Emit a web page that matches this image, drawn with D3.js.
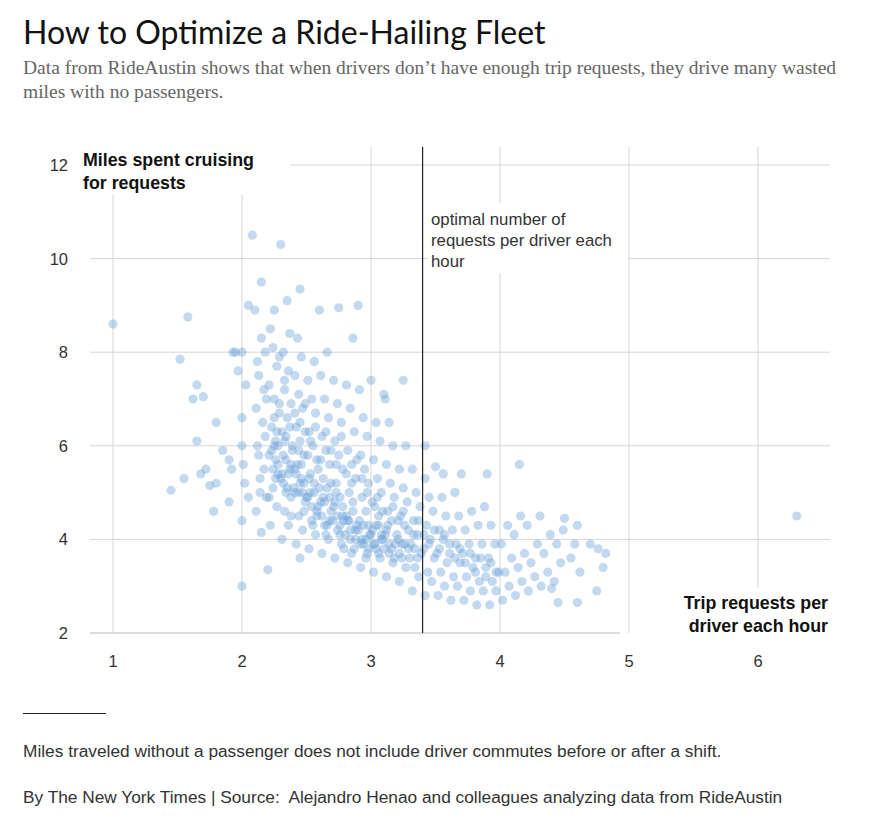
<!DOCTYPE html>
<html><head><meta charset="utf-8">
<script src="https://cdn.jsdelivr.net/npm/d3@7"></script>
<style>
body{margin:0;background:#fff;font-family:"Liberation Sans",Arial,sans-serif;}
.title{position:absolute;left:23px;top:12px;font-size:32px;color:#121212;font-family:"Lato",sans-serif;font-weight:400;}
.sub{position:absolute;left:23px;top:56px;width:840px;font-size:19.5px;line-height:24px;color:#666;font-family:"Liberation Serif",serif;}
.rule{position:absolute;left:23px;top:713px;width:83px;border-top:1px solid #222;}
.note{position:absolute;left:23px;font-size:17.3px;color:#333;}
</style></head><body>
<div class="title">How to Optimize a Ride-Hailing Fleet</div>
<div class="sub">Data from RideAustin shows that when drivers don’t have enough trip requests, they drive many wasted miles with no passengers.</div>
<svg id="chart" width="875" height="700" style="position:absolute;left:0;top:0"></svg>
<div class="rule"></div>
<div class="note" style="top:741px">Miles traveled without a passenger does not include driver commutes before or after a shift.</div>
<div class="note" style="top:787px">By The New York Times | Source:&nbsp; Alejandro Henao and colleagues analyzing data from RideAustin</div>
<script>
var xTicks = [1, 2, 3, 4, 5, 6];
var yTicks = [2, 4, 6, 8, 10, 12];
var optimalRequests = 3.4;
var outliers = [[1.0,8.6],[1.58,8.75],[1.52,7.85],[1.45,5.05],[1.55,5.3],[1.65,7.3],[1.62,7.0],[1.7,7.05],[1.65,6.1],[1.68,5.4],[1.72,5.5],[1.75,5.15],[1.78,4.6],[1.8,5.2],[1.8,6.5],[1.85,5.9],[1.9,5.7],[1.9,4.8],[1.92,5.5],[1.95,8.0],[1.97,7.6],[2.0,3.0],[2.0,4.4],[2.0,6.6],[2.02,5.2],[2.05,4.9],[2.05,9.0],[2.08,10.5],[2.1,8.9],[2.15,9.5],[2.25,8.9],[2.3,10.3],[2.35,9.1],[2.45,9.35],[2.6,8.9],[2.75,8.95],[2.9,9.0],[3.0,7.4],[3.1,7.1],[3.25,7.4],[3.42,6.0],[3.5,5.55],[3.56,5.4],[3.7,5.4],[3.9,5.4],[4.15,5.6],[4.5,4.45],[4.6,4.3],[4.7,3.9],[4.76,3.8],[4.82,3.7],[4.8,3.4],[4.75,2.9],[4.6,2.65],[4.45,2.65],[4.4,2.95],[6.3,4.5],[2.2,3.35],[2.15,4.15],[2.45,3.6],[2.0,8.0],[1.93,8.0],[2.03,7.3],[2.0,6.0],[2.01,5.6]];
var cluster = [
[2.11,4.6],[2.14,5.0],[2.17,5.5],[2.12,6.0],[2.16,6.5],[2.19,7.0],[2.13,7.5],[2.18,8.0],[2.15,8.3],[2.11,6.8],[2.18,6.2],[2.14,5.3],[2.12,7.8],[2.17,7.2],[2.13,5.8],[2.19,4.9],
[2.22,4.3],[2.27,4.7],[2.24,5.1],[2.28,5.4],[2.21,5.8],[2.26,6.1],[2.23,6.4],[2.29,6.7],[2.25,7.0],[2.21,7.3],[2.27,7.7],[2.24,8.1],[2.22,8.5],[2.28,5.6],[2.25,6.0],[2.21,4.9],[2.29,7.9],[2.26,5.3],[2.23,5.9],[2.27,6.3],
[2.31,4.0],[2.36,4.3],[2.33,4.6],[2.38,4.9],[2.32,5.2],[2.37,5.5],[2.34,5.7],[2.39,6.0],[2.31,6.3],[2.35,6.6],[2.38,6.9],[2.33,7.2],[2.36,7.6],[2.32,8.0],[2.37,8.4],[2.34,5.0],[2.31,5.4],[2.39,5.9],[2.35,5.1],[2.33,6.1],[2.38,4.5],
[2.42,3.9],[2.47,4.2],[2.44,4.5],[2.49,4.8],[2.41,5.0],[2.46,5.3],[2.43,5.6],[2.48,5.8],[2.45,6.1],[2.42,6.4],[2.47,6.8],[2.44,7.1],[2.41,7.5],[2.46,7.9],[2.43,8.3],[2.48,4.6],[2.45,5.2],[2.41,5.5],[2.47,5.0],[2.44,5.9],[2.49,6.3],
[2.52,3.8],[2.57,4.1],[2.54,4.4],[2.59,4.7],[2.51,4.9],[2.56,5.2],[2.53,5.4],[2.58,5.7],[2.55,6.0],[2.52,6.3],[2.57,6.7],[2.54,7.0],[2.51,7.4],[2.56,7.8],[2.58,4.5],[2.53,5.0],[2.55,4.3],[2.59,5.5],[2.51,5.8],
[2.62,3.7],[2.67,4.0],[2.64,4.3],[2.69,4.6],[2.61,4.8],[2.66,5.1],[2.63,5.3],[2.68,5.6],[2.65,5.9],[2.62,6.2],[2.67,6.6],[2.64,7.0],[2.61,7.5],[2.66,8.0],[2.68,4.4],[2.63,4.9],[2.65,4.1],[2.69,5.2],
[2.72,3.6],[2.77,3.9],[2.74,4.2],[2.79,4.4],[2.71,4.7],[2.76,4.9],[2.73,5.2],[2.78,5.5],[2.75,5.8],[2.72,6.1],[2.77,6.5],[2.74,6.9],[2.71,7.4],[2.78,4.5],[2.73,5.0],[2.76,4.1],[2.79,3.8],
[2.82,3.5],[2.87,3.8],[2.84,4.0],[2.89,4.3],[2.81,4.5],[2.86,4.8],[2.83,5.0],[2.88,5.3],[2.85,5.6],[2.82,5.9],[2.87,6.3],[2.84,6.8],[2.81,7.3],[2.86,8.3],[2.88,4.2],[2.83,4.4],[2.85,3.7],
[2.92,3.4],[2.97,3.7],[2.94,3.9],[2.99,4.1],[2.91,4.4],[2.96,4.6],[2.93,4.9],[2.98,5.2],[2.95,5.5],[2.92,5.8],[2.97,6.2],[2.94,6.6],[2.91,7.2],[2.98,4.3],[2.93,4.0],[2.96,3.6],
[3.02,3.3],[3.07,3.6],[3.04,3.8],[3.09,4.0],[3.01,4.2],[3.06,4.5],[3.03,4.7],[3.08,5.0],[3.05,5.3],[3.02,5.7],[3.07,6.1],[3.04,6.5],[3.08,4.1],[3.03,3.9],[3.06,4.3],
[3.12,3.2],[3.17,3.5],[3.14,3.7],[3.19,3.9],[3.11,4.1],[3.16,4.4],[3.13,4.6],[3.18,4.9],[3.15,5.2],[3.12,5.6],[3.17,6.0],[3.14,6.5],[3.11,7.0],[3.16,3.8],
[3.22,3.1],[3.27,3.4],[3.24,3.6],[3.29,3.8],[3.21,4.0],[3.26,4.3],[3.23,4.5],[3.28,4.8],[3.25,5.1],[3.22,5.5],[3.27,6.0],[3.24,3.9],
[3.32,2.9],[3.37,3.2],[3.34,3.4],[3.39,3.7],[3.31,3.9],[3.36,4.1],[3.33,4.4],[3.38,4.7],[3.35,5.0],[3.32,5.5],[3.36,3.6],
[3.42,2.8],[3.47,3.1],[3.44,3.3],[3.49,3.6],[3.41,3.8],[3.46,4.0],[3.43,4.3],[3.48,4.6],[3.45,4.9],[3.42,5.3],
[3.52,2.8],[3.57,3.0],[3.54,3.3],[3.59,3.5],[3.51,3.7],[3.56,4.0],[3.53,4.2],[3.58,4.5],[3.55,4.9],
[3.62,2.7],[3.67,3.0],[3.64,3.2],[3.69,3.5],[3.61,3.7],[3.66,3.9],[3.63,4.2],[3.68,4.5],[3.65,5.0],
[3.72,2.7],[3.77,2.9],[3.74,3.2],[3.79,3.4],[3.71,3.7],[3.76,3.9],[3.73,4.2],[3.78,4.6],
[3.82,2.6],[3.87,2.9],[3.84,3.1],[3.89,3.4],[3.81,3.6],[3.86,3.9],[3.83,4.3],[3.88,4.7],
[3.92,2.6],[3.97,2.9],[3.94,3.1],[3.99,3.3],[3.91,3.6],[3.96,3.9],[3.93,4.3],
[4.02,2.7],[4.07,3.0],[4.04,3.3],[4.09,3.6],[4.01,3.9],[4.06,4.3],
[4.12,2.8],[4.17,3.1],[4.14,3.4],[4.19,3.7],[4.11,4.1],[4.16,4.5],
[4.22,2.9],[4.27,3.2],[4.24,3.5],[4.29,3.9],[4.21,4.3],
[4.32,3.0],[4.37,3.3],[4.34,3.7],[4.39,4.1],[4.31,4.5],
[4.42,3.1],[4.47,3.5],[4.44,3.9],[4.49,4.2],[4.55,3.6],[4.62,3.3],[4.58,3.9]
];
// densest core of the cloud
var core = [
[2.24,5.5],[2.26,5.7],[2.28,6.0],[2.3,5.3],[2.32,5.8],[2.34,6.2],[2.36,5.4],[2.38,5.6],[2.4,5.1],[2.42,5.4],[2.44,5.0],[2.46,5.6],[2.48,5.2],[2.5,4.9],[2.52,5.3],[2.54,4.7],[2.56,5.0],[2.58,4.6],[2.6,5.1],[2.62,4.5],[2.64,4.8],[2.66,4.3],[2.68,4.9],[2.7,4.4],[2.72,4.8],[2.74,4.5],[2.76,4.3],[2.78,4.7],[2.8,4.1],[2.82,4.4],[2.84,4.2],[2.86,4.6],[2.88,4.0],[2.9,4.2],[2.92,3.9],[2.94,4.3],[2.96,4.0],[2.98,3.8],[3.0,4.1],[3.02,3.9],[3.04,4.3],[3.06,3.7],[3.08,4.0],[3.1,3.8],[3.12,4.2],[3.14,3.9],[3.18,3.6],[3.2,4.1],[3.22,3.7],[3.26,3.9],[3.3,3.6],[3.34,3.8],
[2.25,6.6],[2.29,6.9],[2.33,7.4],[2.37,6.4],[2.41,6.7],[2.45,6.5],[2.49,6.9],[2.53,6.1],[2.57,6.4],[2.61,5.7],[2.65,6.3],[2.69,5.9],[2.73,5.6],[2.77,6.2],[2.81,5.4],[2.85,5.2],[2.89,5.7],[2.93,5.3],[2.97,5.0],[3.01,4.8],[3.05,4.9],[3.09,4.6],[3.13,4.3],[3.17,4.7],[3.21,4.4],[3.25,4.6],[3.29,4.2],[3.33,4.1],[3.37,4.4],[3.41,4.1],[3.45,3.9],[3.49,4.2],[3.53,3.8],[3.57,4.1],[3.61,3.9],[3.65,3.6],[3.69,3.8],[3.73,3.5],[3.77,3.7],[3.81,3.3],[3.85,3.6],[3.89,3.2],[3.93,3.5],[3.97,3.3]
];
var points = outliers.concat(cluster, core);

var svg = d3.select("#chart");
var x = d3.scaleLinear().domain([1, 6]).range([113, 758]);
var y = d3.scaleLinear().domain([2, 12]).range([633, 165]);

// gridlines
svg.selectAll(".hg").data(yTicks.slice(1)).enter().append("line")
  .attr("x1", function(d){ return d == 12 ? 290 : 90; }).attr("x2", 830)
  .attr("y1", y).attr("y2", y).attr("stroke", "#d6d6d6");
svg.selectAll(".vg").data(xTicks).enter().append("line")
  .attr("x1", x).attr("x2", x).attr("y1", 147).attr("y2", 633)
  .attr("stroke", "#d6d6d6");
svg.append("line").attr("x1", 90).attr("x2", 620).attr("y1", y(2)).attr("y2", y(2)).attr("stroke", "#bbb");

svg.selectAll(".yt").data(yTicks).enter().append("text")
  .attr("x", 68).attr("y", function(d){ return y(d) + 6; })
  .attr("text-anchor", "end").attr("font-size", 16.5).attr("fill", "#333").text(function(d){ return d; });
svg.selectAll(".xt").data(xTicks).enter().append("text")
  .attr("x", x).attr("y", 667)
  .attr("text-anchor", "middle").attr("font-size", 16.5).attr("fill", "#333").text(function(d){ return d; });

svg.selectAll("circle").data(points).enter().append("circle")
  .attr("cx", function(d){ return x(d[0]); })
  .attr("cy", function(d){ return y(d[1]); })
  .attr("r", 4.6).attr("fill", "#6a9fd6").attr("fill-opacity", 0.4);

// optimal line
svg.append("line").attr("x1", x(optimalRequests)).attr("x2", x(optimalRequests))
  .attr("y1", 147).attr("y2", 633).attr("stroke", "#222").attr("stroke-width", 1.2);
svg.append("rect").attr("x", 428).attr("y", 203).attr("width", 200).attr("height", 70).attr("fill", "#fff");
["optimal number of", "requests per driver each", "hour"].forEach(function(t, i){
  svg.append("text").attr("x", 431).attr("y", 225 + i * 21).attr("font-size", 16.8).attr("fill", "#333").text(t);
});

// axis titles
svg.append("rect").attr("x", 80).attr("y", 145).attr("width", 185).attr("height", 50).attr("fill", "#fff");
["Miles spent cruising", "for requests"].forEach(function(t, i){
  svg.append("text").attr("x", 83).attr("y", 166 + i * 23).attr("font-size", 17.8).attr("font-weight", "bold").attr("fill", "#111").text(t);
});
svg.append("rect").attr("x", 665).attr("y", 588).attr("width", 170).attr("height", 50).attr("fill", "#fff");
["Trip requests per", "driver each hour"].forEach(function(t, i){
  svg.append("text").attr("x", 828).attr("y", 609 + i * 23).attr("text-anchor", "end").attr("font-size", 17.8).attr("font-weight", "bold").attr("fill", "#111").text(t);
});
</script>
</body></html>
